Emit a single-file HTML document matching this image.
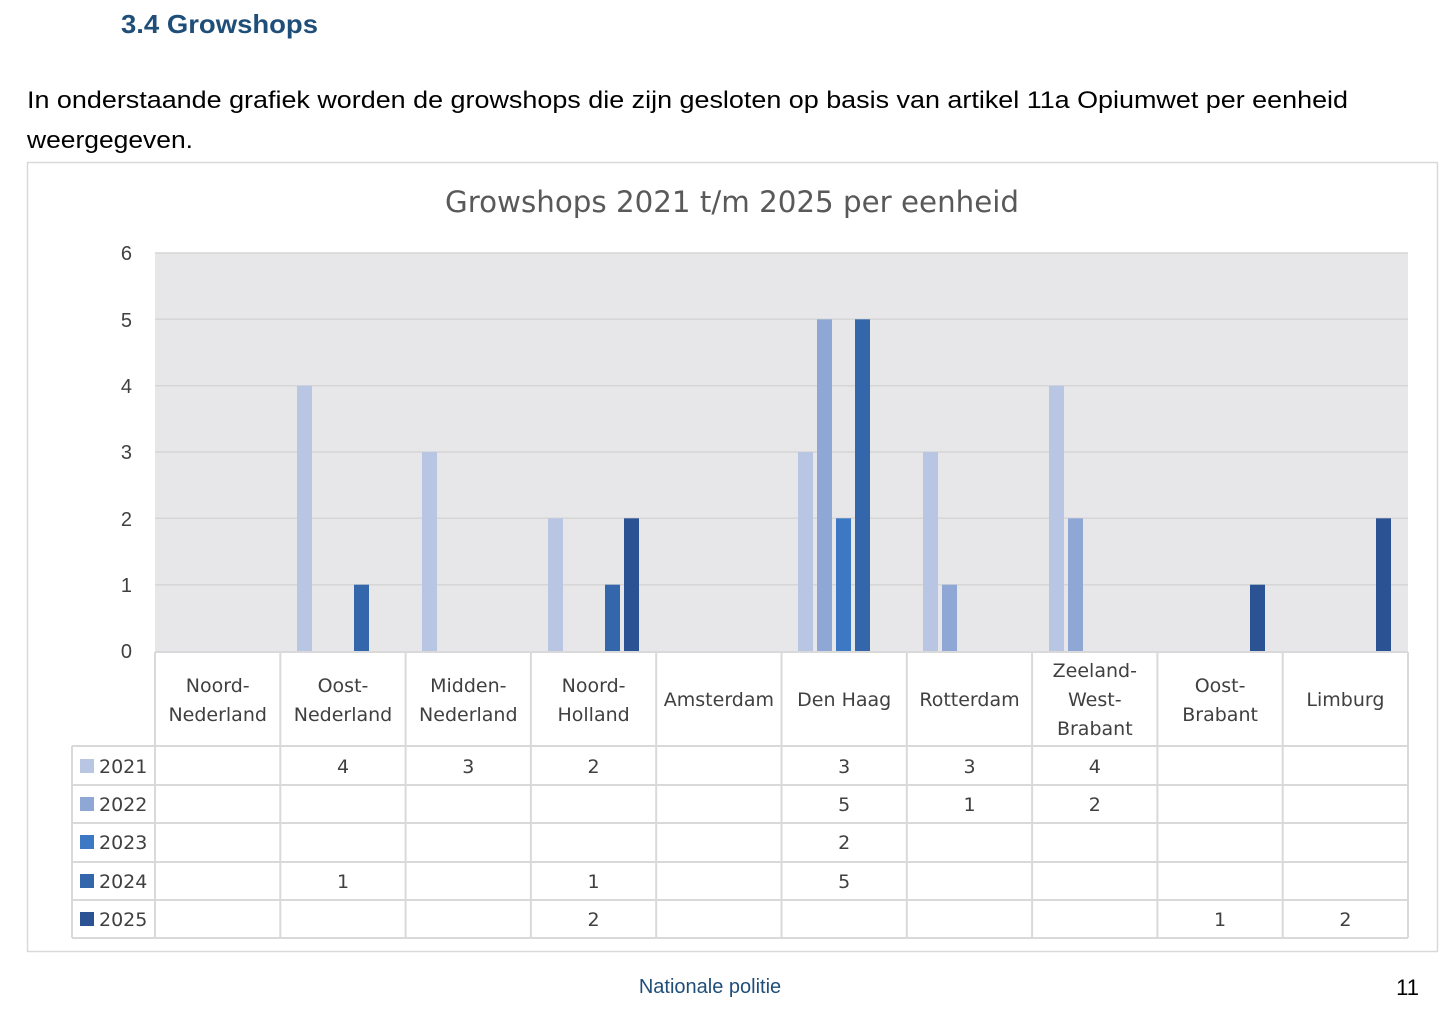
<!DOCTYPE html>
<html><head><meta charset="utf-8"><style>
body{margin:0;background:#fff;width:1454px;height:1018px;overflow:hidden;font-family:"Liberation Sans",sans-serif;}
</style></head><body>
<svg width="1454" height="1018" xmlns="http://www.w3.org/2000/svg" style="position:absolute;left:0;top:0">
<text x="121" y="33" font-family="Liberation Sans" font-weight="bold" font-size="26" fill="#1f4e79" textLength="197" lengthAdjust="spacingAndGlyphs">3.4 Growshops</text>
<text x="27" y="108" font-family="Liberation Sans" font-size="24" fill="#000" textLength="1321" lengthAdjust="spacingAndGlyphs">In onderstaande grafiek worden de growshops die zijn gesloten op basis van artikel 11a Opiumwet per eenheid</text>
<text x="27" y="148" font-family="Liberation Sans" font-size="24" fill="#000" textLength="166" lengthAdjust="spacingAndGlyphs">weergegeven.</text>
<rect x="27.5" y="162.5" width="1410" height="789" fill="#fff" stroke="#d9d9d9" stroke-width="1.5"/>
<text x="732" y="212" text-anchor="middle" font-family="DejaVu Sans" font-size="29" fill="#595959" textLength="574" lengthAdjust="spacingAndGlyphs">Growshops 2021 t/m 2025 per eenheid</text>
<rect x="155" y="253" width="1253" height="398" fill="#e7e6e8"/>
<g stroke="#d6d6d6" stroke-width="1.5">
<line x1="155" x2="1408" y1="253" y2="253"/><line x1="155" x2="1408" y1="319.3" y2="319.3"/><line x1="155" x2="1408" y1="385.7" y2="385.7"/><line x1="155" x2="1408" y1="452" y2="452"/><line x1="155" x2="1408" y1="518.3" y2="518.3"/><line x1="155" x2="1408" y1="584.7" y2="584.7"/>
</g>
<g font-family="Liberation Sans" font-size="20" fill="#404040" text-anchor="end">
<text x="132" y="260">6</text><text x="132" y="327">5</text><text x="132" y="393">4</text><text x="132" y="459">3</text><text x="132" y="526">2</text><text x="132" y="592">1</text><text x="132" y="658">0</text>
</g>
<g>
<rect x="297" y="385.7" width="15" height="265.3" fill="#b9c6e3"/>
<rect x="354" y="584.7" width="15" height="66.3" fill="#3366aa"/>
<rect x="422" y="452" width="15" height="199" fill="#b9c6e3"/>
<rect x="548" y="518.3" width="15" height="132.7" fill="#b9c6e3"/>
<rect x="605" y="584.7" width="15" height="66.3" fill="#3366aa"/>
<rect x="624" y="518.3" width="15" height="132.7" fill="#2b5394"/>
<rect x="798" y="452" width="15" height="199" fill="#b9c6e3"/>
<rect x="817" y="319.3" width="15" height="331.7" fill="#8fa7d5"/>
<rect x="836" y="518.3" width="15" height="132.7" fill="#3d78c4"/>
<rect x="855" y="319.3" width="15" height="331.7" fill="#3366aa"/>
<rect x="923" y="452" width="15" height="199" fill="#b9c6e3"/>
<rect x="942" y="584.7" width="15" height="66.3" fill="#8fa7d5"/>
<rect x="1049" y="385.7" width="15" height="265.3" fill="#b9c6e3"/>
<rect x="1068" y="518.3" width="15" height="132.7" fill="#8fa7d5"/>
<rect x="1250" y="584.7" width="15" height="66.3" fill="#2b5394"/>
<rect x="1376" y="518.3" width="15" height="132.7" fill="#2b5394"/>
</g>
<g stroke="#d9d9d9" stroke-width="2" fill="none">
<line x1="155" x2="1408" y1="652" y2="652"/>
<line x1="72" x2="1408" y1="746" y2="746"/><line x1="72" x2="1408" y1="785" y2="785"/><line x1="72" x2="1408" y1="823" y2="823"/><line x1="72" x2="1408" y1="862" y2="862"/><line x1="72" x2="1408" y1="900" y2="900"/><line x1="72" x2="1408" y1="938" y2="938"/>
<line x1="72" x2="72" y1="746" y2="938"/>
<line x1="155" x2="155" y1="652" y2="938"/><line x1="280.3" x2="280.3" y1="652" y2="938"/><line x1="405.6" x2="405.6" y1="652" y2="938"/><line x1="530.9" x2="530.9" y1="652" y2="938"/><line x1="656.2" x2="656.2" y1="652" y2="938"/><line x1="781.5" x2="781.5" y1="652" y2="938"/><line x1="906.8" x2="906.8" y1="652" y2="938"/><line x1="1032.1" x2="1032.1" y1="652" y2="938"/><line x1="1157.4" x2="1157.4" y1="652" y2="938"/><line x1="1282.7" x2="1282.7" y1="652" y2="938"/><line x1="1408" x2="1408" y1="652" y2="938"/>
</g>
<g font-family="DejaVu Sans" font-size="19" fill="#404040" text-anchor="middle">
<text x="217.7" y="692">Noord-</text><text x="217.7" y="721">Nederland</text>
<text x="343" y="692">Oost-</text><text x="343" y="721">Nederland</text>
<text x="468.3" y="692">Midden-</text><text x="468.3" y="721">Nederland</text>
<text x="593.6" y="692">Noord-</text><text x="593.6" y="721">Holland</text>
<text x="718.9" y="706">Amsterdam</text>
<text x="844.2" y="706">Den Haag</text>
<text x="969.5" y="706">Rotterdam</text>
<text x="1094.8" y="677">Zeeland-</text><text x="1094.8" y="706">West-</text><text x="1094.8" y="735">Brabant</text>
<text x="1220.1" y="692">Oost-</text><text x="1220.1" y="721">Brabant</text>
<text x="1345.4" y="706">Limburg</text>
</g>
<g font-family="DejaVu Sans" font-size="19" fill="#404040">
<rect x="80" y="759" width="14" height="14" fill="#b9c6e3"/><text x="99" y="773">2021</text>
<rect x="80" y="797" width="14" height="14" fill="#8fa7d5"/><text x="99" y="811">2022</text>
<rect x="80" y="835" width="14" height="14" fill="#3d78c4"/><text x="99" y="849">2023</text>
<rect x="80" y="874" width="14" height="14" fill="#3366aa"/><text x="99" y="888">2024</text>
<rect x="80" y="912" width="14" height="14" fill="#2b5394"/><text x="99" y="926">2025</text>
</g>
<g font-family="DejaVu Sans" font-size="19" fill="#404040" text-anchor="middle">
<text x="343" y="773">4</text><text x="468.3" y="773">3</text><text x="593.6" y="773">2</text><text x="844.2" y="773">3</text><text x="969.5" y="773">3</text><text x="1094.8" y="773">4</text>
<text x="844.2" y="811">5</text><text x="969.5" y="811">1</text><text x="1094.8" y="811">2</text>
<text x="844.2" y="849">2</text>
<text x="343" y="888">1</text><text x="593.6" y="888">1</text><text x="844.2" y="888">5</text>
<text x="593.6" y="926">2</text><text x="1220.1" y="926">1</text><text x="1345.4" y="926">2</text>
</g>
<text x="710" y="993" text-anchor="middle" font-family="Liberation Sans" font-size="20" fill="#1f4e79">Nationale politie</text>
<text x="1419" y="995" text-anchor="end" font-family="Liberation Sans" font-size="22" fill="#000">11</text>
</svg>
</body></html>
